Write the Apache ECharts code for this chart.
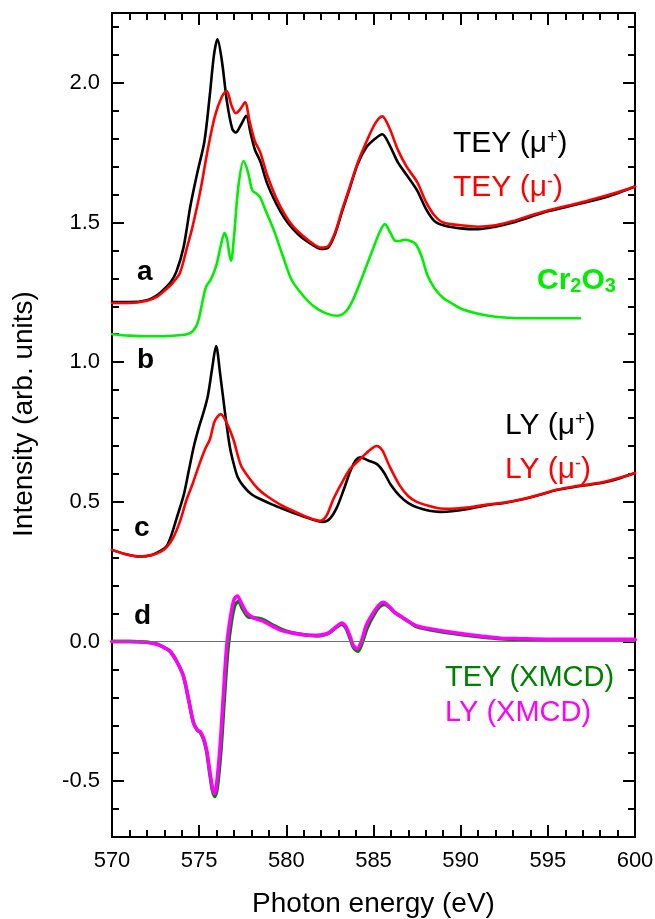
<!DOCTYPE html>
<html>
<head>
<meta charset="utf-8">
<script src="https://cdn.jsdelivr.net/npm/echarts@6/dist/echarts.min.js"></script>
<style>
  html, body { margin: 0; padding: 0; background: #fff; }
  #chart { width: 655px; height: 919px; }
</style>
</head>
<body>
<div id="chart"></div>
<script>
// photon energy (eV) and intensity for each curve
var teyPlusE = [570.0, 571.0, 572.0, 572.6, 573.0, 573.4, 573.7, 574.1, 574.5, 574.9, 575.3, 575.6, 575.85, 576.05, 576.3, 576.6, 576.9, 577.1, 577.4, 577.7, 577.95, 578.2, 578.5, 578.9, 579.4, 579.9, 580.4, 580.9, 581.5, 582.0, 582.4, 582.8, 583.2, 583.6, 584.1, 584.6, 585.1, 585.5, 585.9, 586.4, 586.9, 587.5, 588.0, 588.5, 589.0, 590.0, 591.0, 592.0, 593.0, 594.0, 595.0, 596.0, 597.0, 598.0, 599.0, 600.0];
var teyPlusV = [1.215, 1.215, 1.222, 1.24, 1.262, 1.29, 1.325, 1.41, 1.56, 1.68, 1.79, 1.95, 2.10, 2.156, 2.08, 1.93, 1.835, 1.822, 1.85, 1.882, 1.82, 1.76, 1.72, 1.64, 1.57, 1.515, 1.475, 1.445, 1.42, 1.405, 1.41, 1.46, 1.54, 1.615, 1.71, 1.77, 1.80, 1.816, 1.78, 1.715, 1.67, 1.615, 1.55, 1.505, 1.49, 1.479, 1.476, 1.485, 1.50, 1.52, 1.54, 1.555, 1.57, 1.585, 1.605, 1.629];

var teyMinusE = [570.0, 571.0, 572.0, 572.6, 573.0, 573.5, 573.9, 574.3, 574.6, 575.05, 575.5, 575.9, 576.3, 576.58, 576.85, 577.1, 577.35, 577.63, 577.9, 578.2, 578.5, 578.9, 579.4, 579.9, 580.4, 580.9, 581.5, 582.0, 582.4, 582.8, 583.2, 583.6, 584.1, 584.6, 585.1, 585.5, 585.9, 586.4, 586.9, 587.5, 588.0, 588.5, 589.0, 590.0, 591.0, 592.0, 593.0, 594.0, 595.0, 596.0, 597.0, 598.0, 599.0, 600.0];
var teyMinusV = [1.212, 1.212, 1.22, 1.235, 1.255, 1.285, 1.32, 1.41, 1.48, 1.607, 1.763, 1.88, 1.95, 1.971, 1.92, 1.891, 1.905, 1.93, 1.86, 1.79, 1.752, 1.67, 1.59, 1.53, 1.485, 1.455, 1.425, 1.41, 1.415, 1.465, 1.545, 1.62, 1.715, 1.79, 1.855, 1.88, 1.84, 1.76, 1.70, 1.645, 1.575, 1.525, 1.50, 1.49, 1.485, 1.49, 1.505, 1.525, 1.543, 1.558, 1.573, 1.59, 1.608, 1.629];

var cr2o3E = [570.0, 571.0, 572.0, 573.0, 574.0, 574.5, 574.8, 575.0, 575.2, 575.4, 575.7, 576.0, 576.25, 576.45, 576.6, 576.72, 576.83, 577.0, 577.25, 577.55, 577.8, 578.05, 578.3, 578.5, 578.8, 579.3, 579.8, 580.3, 580.8, 581.3, 581.8, 582.4, 582.9, 583.4, 583.8, 584.2, 584.6, 585.0, 585.35, 585.65, 585.95, 586.25, 586.5, 586.8, 587.2, 587.45, 587.75, 588.1, 588.5, 589.0, 589.5, 590.0, 590.7, 591.5, 592.5, 594.0, 596.85];
var cr2o3V = [1.10, 1.095, 1.093, 1.093, 1.097, 1.105, 1.125, 1.16, 1.22, 1.27, 1.30, 1.35, 1.42, 1.462, 1.44, 1.39, 1.363, 1.45, 1.63, 1.72, 1.68, 1.615, 1.603, 1.59, 1.545, 1.47, 1.38, 1.295, 1.25, 1.215, 1.19, 1.172, 1.166, 1.18, 1.22, 1.28, 1.345, 1.41, 1.465, 1.494, 1.465, 1.435, 1.434, 1.438, 1.432, 1.42, 1.38, 1.31, 1.265, 1.23, 1.21, 1.192, 1.178, 1.167, 1.16, 1.157, 1.157];

var lyPlusE = [570.0, 570.8, 571.6, 572.3, 572.8, 573.14, 573.4, 573.7, 574.1, 574.4, 574.7, 575.0, 575.25, 575.5, 575.75, 575.97, 576.2, 576.48, 576.75, 576.96, 577.2, 577.53, 578.0, 578.5, 579.2, 579.83, 580.5, 581.2, 581.7, 582.1, 582.5, 582.9, 583.3, 583.7, 584.0, 584.25, 584.7, 585.2, 585.6, 586.0, 586.5, 587.0, 587.5, 588.2, 588.8, 589.5, 590.5, 591.5, 592.5, 593.5, 594.5, 595.5, 596.5, 597.5, 598.2, 599.0, 600.0];
var lyPlusV = [0.328, 0.312, 0.304, 0.31, 0.325, 0.342, 0.38, 0.44, 0.521, 0.61, 0.70, 0.77, 0.82, 0.88, 0.98, 1.058, 0.96, 0.82, 0.70, 0.641, 0.59, 0.557, 0.527, 0.51, 0.49, 0.474, 0.458, 0.443, 0.433, 0.428, 0.44, 0.48, 0.545, 0.615, 0.65, 0.659, 0.648, 0.635, 0.605, 0.56, 0.521, 0.495, 0.48, 0.468, 0.464, 0.466, 0.475, 0.488, 0.496, 0.508, 0.524, 0.542, 0.553, 0.562, 0.569, 0.582, 0.603];

var lyMinusE = [570.0, 570.8, 571.6, 572.3, 572.8, 573.14, 573.5, 573.9, 574.29, 574.6, 575.05, 575.35, 575.62, 575.9, 576.24, 576.6, 576.96, 577.4, 577.92, 578.4, 578.88, 579.8, 580.79, 581.4, 581.93, 582.3, 582.7, 583.2, 583.65, 584.1, 584.6, 585.19, 585.5, 585.9, 586.52, 587.0, 587.48, 588.2, 588.82, 589.5, 590.5, 591.5, 592.5, 593.5, 594.5, 595.5, 596.5, 597.5, 598.2, 599.0, 600.0];
var lyMinusV = [0.328, 0.312, 0.304, 0.31, 0.322, 0.338, 0.37, 0.43, 0.51, 0.56, 0.641, 0.69, 0.724, 0.79, 0.814, 0.78, 0.724, 0.63, 0.581, 0.545, 0.521, 0.485, 0.456, 0.44, 0.432, 0.45, 0.51, 0.57, 0.617, 0.645, 0.675, 0.70, 0.685, 0.63, 0.557, 0.52, 0.50, 0.485, 0.476, 0.475, 0.48, 0.49, 0.497, 0.509, 0.525, 0.543, 0.555, 0.564, 0.571, 0.584, 0.603];

var xmcdTeyE = [570.0, 571.0, 572.0, 572.6, 573.0, 573.33, 573.7, 574.09, 574.4, 574.67, 574.9, 575.05, 575.25, 575.43, 575.6, 575.75, 575.9, 576.05, 576.25, 576.45, 576.65, 576.85, 577.05, 577.25, 577.5, 577.8, 578.1, 578.6, 579.2, 579.7, 580.21, 581.0, 581.74, 582.2, 582.5, 582.9, 583.17, 583.4, 583.65, 583.85, 584.1, 584.35, 584.65, 585.05, 585.35, 585.62, 585.95, 586.25, 586.6, 587.1, 587.5, 588.4, 589.39, 590.3, 591.3, 592.26, 593.4, 595.0, 597.0, 600.0];
var xmcdTeyV = [0.0, 0.0, -0.003, -0.01, -0.022, -0.035, -0.07, -0.123, -0.21, -0.29, -0.318, -0.325, -0.35, -0.395, -0.47, -0.53, -0.555, -0.52, -0.39, -0.2, -0.03, 0.07, 0.13, 0.143, 0.115, 0.088, 0.085, 0.08, 0.06, 0.044, 0.033, 0.024, 0.02, 0.024, 0.032, 0.052, 0.062, 0.05, 0.012, -0.022, -0.035, -0.005, 0.05, 0.098, 0.124, 0.132, 0.12, 0.102, 0.088, 0.068, 0.052, 0.04, 0.03, 0.022, 0.015, 0.01, 0.007, 0.005, 0.005, 0.005];

var xmcdLyE = [570.0, 571.0, 572.0, 572.6, 573.0, 573.33, 573.7, 574.09, 574.4, 574.67, 574.9, 575.05, 575.25, 575.43, 575.6, 575.75, 575.87, 576.0, 576.2, 576.4, 576.58, 576.8, 577.0, 577.19, 577.4, 577.7, 577.92, 578.3, 578.68, 579.2, 579.7, 580.21, 581.0, 581.74, 582.2, 582.5, 582.9, 583.17, 583.4, 583.65, 583.85, 584.07, 584.3, 584.6, 585.0, 585.3, 585.57, 585.9, 586.2, 586.52, 587.0, 587.48, 588.4, 589.39, 590.3, 591.3, 592.26, 593.4, 595.0, 597.0, 600.0];
var xmcdLyV = [0.0, 0.0, -0.003, -0.01, -0.022, -0.035, -0.07, -0.123, -0.21, -0.29, -0.318, -0.322, -0.345, -0.39, -0.46, -0.52, -0.545, -0.51, -0.374, -0.18, -0.016, 0.09, 0.15, 0.163, 0.14, 0.105, 0.092, 0.08, 0.072, 0.055, 0.04, 0.032, 0.024, 0.022, 0.026, 0.034, 0.055, 0.066, 0.055, 0.02, -0.015, -0.025, 0.0, 0.06, 0.104, 0.13, 0.14, 0.125, 0.105, 0.092, 0.072, 0.056, 0.044, 0.034, 0.026, 0.018, 0.012, 0.01, 0.008, 0.008, 0.008];

var xTicks = [570, 575, 580, 585, 590, 595, 600];
var yMajorTicks = [-0.5, 0.0, 0.5, 1.0, 1.5, 2.0];

var FONT = "'Liberation Sans', Arial, sans-serif";

function zip(e, v) {
    var out = [];
    for (var i = 0; i < e.length; i++) out.push([e[i], v[i]]);
    return out;
}

function curve(name, e, v, color, width) {
    return {
        name: name,
        type: 'line',
        data: zip(e, v),
        showSymbol: false,
        smooth: 0.3,
        lineStyle: { color: color, width: width, join: 'round', cap: 'round' },
        silent: true
    };
}

// x axes: bottom one with labels, top one just a mirror with ticks
function xAxisCfg(pos, labels) {
    return {
        type: 'value',
        position: pos,
        min: 570,
        max: 600,
        interval: 5,
        name: labels ? 'Photon energy (eV)' : '',
        nameLocation: 'middle',
        nameGap: 53,
        nameTextStyle: { fontSize: 28, color: '#000', fontFamily: FONT },
        axisLine: { show: true, onZero: false, lineStyle: { color: '#000', width: 2 } },
        axisTick: { show: true, inside: true, length: 12, lineStyle: { color: '#000', width: 2 } },
        minorTick: { show: true, splitNumber: 5, length: 7, lineStyle: { color: '#000', width: 2 } },
        axisLabel: { show: labels, fontSize: 22, color: '#000', margin: 13, fontFamily: FONT },
        splitLine: { show: false }
    };
}

// y axes: one carries major ticks + labels, another the 0.1 minor ticks
function yAxisCfg(pos, labels, major) {
    var cfg = {
        type: 'value',
        position: pos,
        min: -0.7,
        max: 2.25,
        interval: 0.1,
        axisLine: { show: true, onZero: false, lineStyle: { color: '#000', width: 2 } },
        axisTick: { show: true, inside: true, length: major ? 12 : 7, lineStyle: { color: '#000', width: 2 } },
        axisLabel: { show: false },
        splitLine: { show: false }
    };
    if (major) {
        cfg.axisTick.customValues = yMajorTicks;
        cfg.axisLabel = {
            show: labels,
            customValues: yMajorTicks,
            formatter: function (v) { return v.toFixed(1); },
            fontSize: 22, color: '#000', margin: 12, fontFamily: FONT
        };
    }
    if (labels) {
        cfg.name = 'Intensity (arb. units)';
        cfg.nameLocation = 'middle';
        cfg.nameGap = 74;
        cfg.nameTextStyle = { fontSize: 28, color: '#000', fontFamily: FONT, padding: [0, 0, 0, 22] };
    }
    return cfg;
}

function label(text, x, y, color, size, bold, rich) {
    var st = {
        text: text,
        fill: color,
        font: (bold ? 'bold ' : '') + size + 'px ' + FONT,
        verticalAlign: 'middle',
        align: 'left'
    };
    if (rich) st.rich = rich;
    return { type: 'text', x: x, y: y, silent: true, style: st };
}

function supRich(color) {
    return {
        n: { fontSize: 30, fontFamily: FONT, fill: color },
        s: { fontSize: 18, fontFamily: FONT, fill: color, verticalAlign: 'top' },
        b: { fontSize: 30, fontFamily: FONT, fill: color, fontWeight: 'bold' },
        bs: { fontSize: 20, fontFamily: FONT, fill: color, fontWeight: 'bold', verticalAlign: 'bottom' }
    };
}

var chart = echarts.init(document.getElementById('chart'), null, { renderer: 'canvas' });

var xmcdTey = curve('TEY (XMCD)', xmcdTeyE, xmcdTeyV, '#008000', 3.5);
xmcdTey.markLine = {
    silent: true,
    symbol: 'none',
    label: { show: false },
    lineStyle: { color: '#6e6e6e', width: 1.2, type: 'solid' },
    data: [{ yAxis: 0 }]
};

var option = {
    animation: false,
    backgroundColor: '#fff',
    grid: { left: 112, right: 20, top: 13, bottom: 82, containLabel: false, outerBoundsMode: 'none' },
    xAxis: [xAxisCfg('bottom', true), xAxisCfg('top', false)],
    yAxis: [
        yAxisCfg('left', true, true),
        yAxisCfg('left', false, false),
        yAxisCfg('right', false, true),
        yAxisCfg('right', false, false)
    ],
    series: [
        xmcdTey,
        curve('LY (XMCD)', xmcdLyE, xmcdLyV, '#ff00ff', 3.5),
        curve('LY (mu+)', lyPlusE, lyPlusV, '#000000', 2.6),
        curve('LY (mu-)', lyMinusE, lyMinusV, '#ff0000', 2.6),
        curve('Cr2O3', cr2o3E, cr2o3V, '#00ee00', 2.6),
        curve('TEY (mu+)', teyPlusE, teyPlusV, '#000000', 2.6),
        curve('TEY (mu-)', teyMinusE, teyMinusV, '#ff0000', 2.6)
    ],
    graphic: [
        label('a', 137, 272, '#000', 28, true),
        label('b', 137, 360, '#000', 28, true),
        label('c', 134, 528, '#000', 28, true),
        label('d', 134, 616, '#000', 28, true),
        label('{n|TEY (μ}{s|+}{n|)}', 453, 144, '#000', 30, false, supRich('#000')),
        label('{n|TEY (μ}{s|-}{n|)}', 453, 188, '#ff0000', 30, false, supRich('#ff0000')),
        label('{b|Cr}{bs|2}{b|O}{bs|3}', 537, 281, '#00ee00', 30, true, supRich('#00ee00')),
        label('{n|LY (μ}{s|+}{n|)}', 505, 426, '#000', 30, false, supRich('#000')),
        label('{n|LY (μ}{s|-}{n|)}', 505, 470, '#ff0000', 30, false, supRich('#ff0000')),
        label('TEY (XMCD)', 445, 678, '#008000', 29, false),
        label('LY (XMCD)', 445, 713, '#ff00ff', 29, false)
    ]
};

chart.setOption(option);
</script>
</body>
</html>
